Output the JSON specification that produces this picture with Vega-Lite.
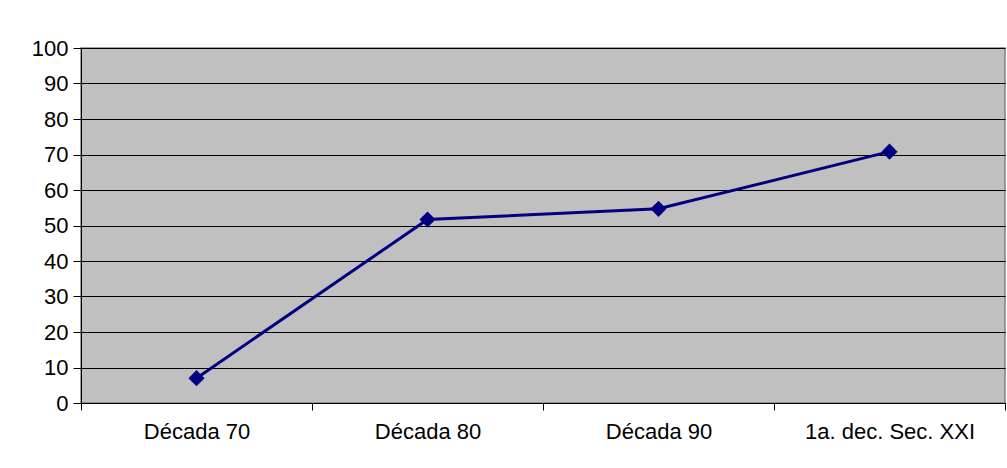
{
  "$schema": "https://vega.github.io/schema/vega-lite/v6.json",
  "autosize": "none",
  "padding": {"left": 81, "top": 48, "right": 2, "bottom": 65},
  "width": 924,
  "height": 355,
  "background": "white",
  "config": {
    "font": "Liberation Sans",
    "view": {"fill": "#C0C0C0", "stroke": "#808080", "strokeWidth": 1.5}
  },
  "data": {
    "values": [
      {"decada": "Década 70", "valor": 7},
      {"decada": "Década 80", "valor": 51.7},
      {"decada": "Década 90", "valor": 54.7},
      {"decada": "1a. dec. Sec. XXI", "valor": 70.8}
    ]
  },
  "encoding": {
    "x": {
      "field": "decada",
      "type": "nominal",
      "sort": null,
      "scale": {"paddingInner": 0, "paddingOuter": 0},
      "axis": {
        "title": null,
        "labelAngle": 0,
        "labelFont": "Liberation Sans",
        "labelFontSize": 22,
        "labelColor": "black",
        "labelPadding": 11,
        "tickBand": "extent",
        "tickSize": 7,
        "tickColor": "black",
        "domainColor": "black",
        "domainWidth": 1,
        "grid": false
      }
    },
    "y": {
      "field": "valor",
      "type": "quantitative",
      "scale": {"domain": [0, 100], "nice": false},
      "axis": {
        "title": null,
        "values": [0, 10, 20, 30, 40, 50, 60, 70, 80, 90, 100],
        "labelFont": "Liberation Sans",
        "labelFontSize": 22,
        "labelColor": "black",
        "labelPadding": 5,
        "tickSize": 8,
        "tickColor": "black",
        "domainColor": "black",
        "grid": true,
        "gridColor": "black",
        "gridOpacity": 1,
        "gridWidth": 1
      }
    }
  },
  "layer": [
    {"mark": {"type": "line", "color": "#000080", "strokeWidth": 3}},
    {"mark": {"type": "point", "shape": "diamond", "filled": true, "size": 260, "color": "#000080", "opacity": 1}}
  ]
}
